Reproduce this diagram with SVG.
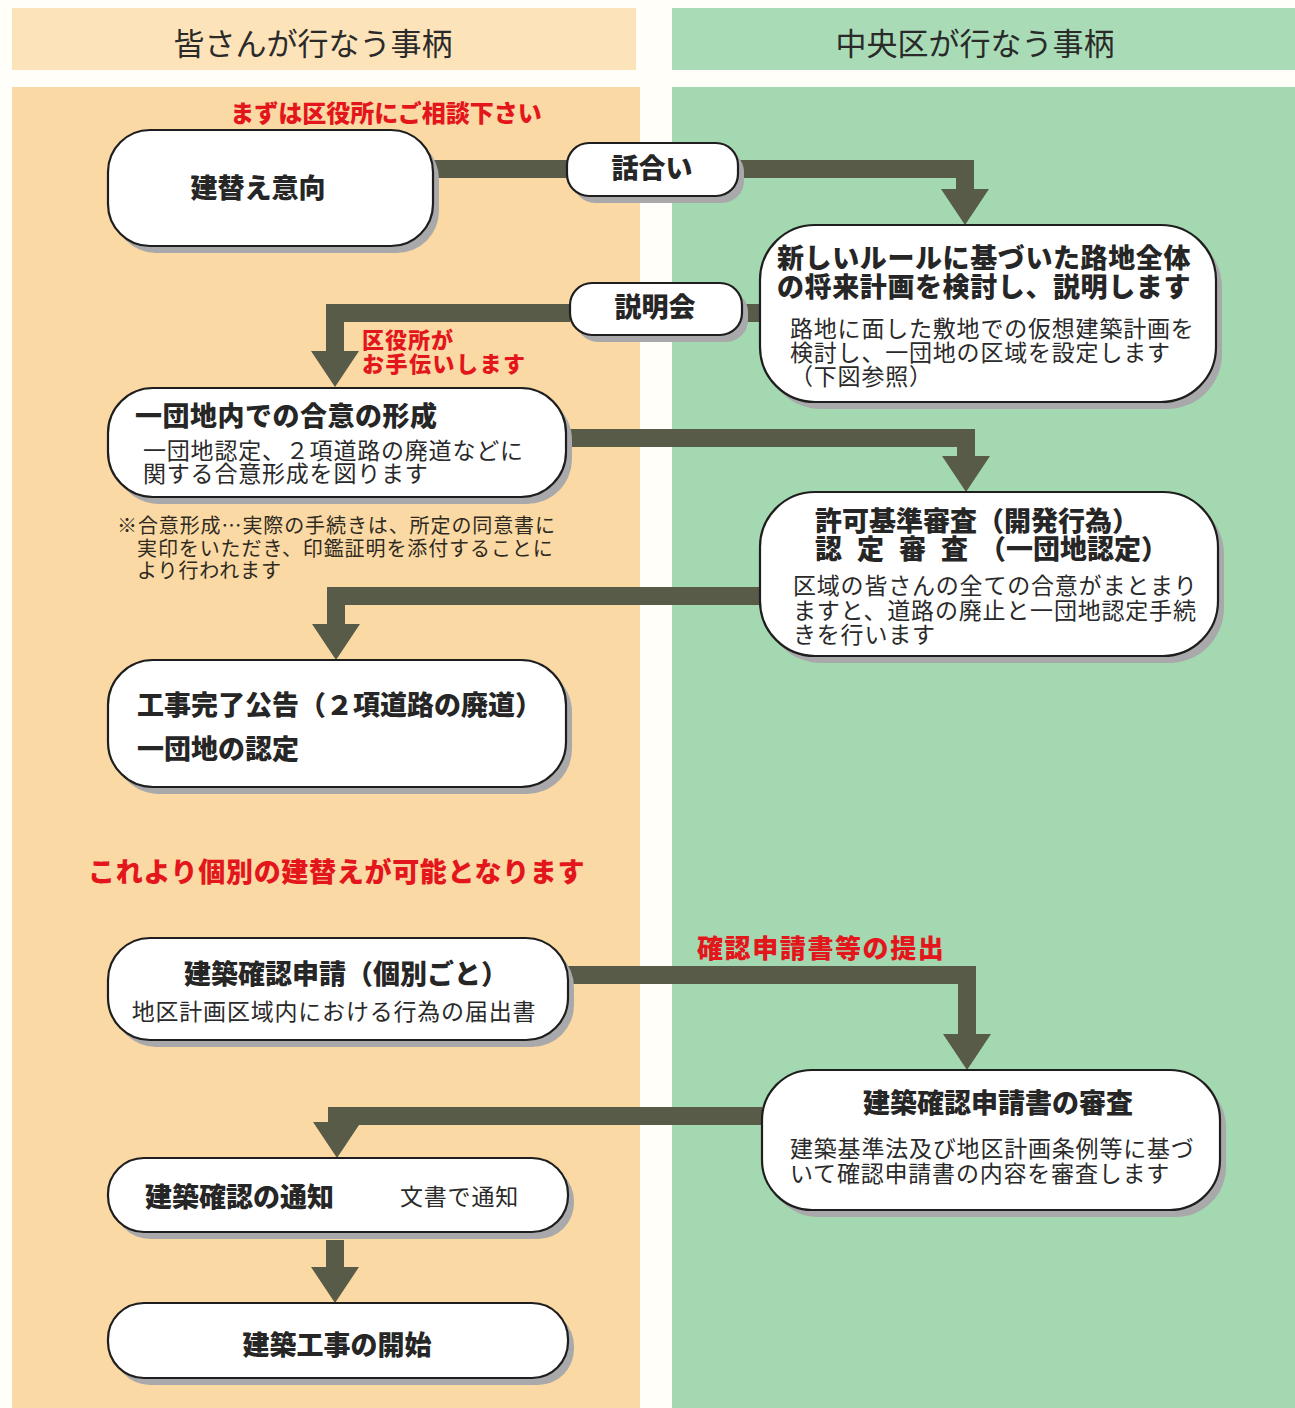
<svg xmlns="http://www.w3.org/2000/svg" width="1295" height="1408" viewBox="0 0 1295 1408">
<defs>
<style>
.bg-l{fill:#fbd9a4}
.bg-r{fill:#a3d8b0}
.hd-l{fill:#fde3b9}
.hd-r{fill:#a9dcb6}
.hdt{font-family:"Noto Sans CJK JP","Noto Sans",sans-serif;font-size:31px;fill:#2a2a2a;text-anchor:middle}
.box{fill:#ffffff;stroke:#1e1e1e;stroke-width:2.2}
.shd{fill:#a9a9ab}
.t{font-family:"Noto Sans CJK JP","Noto Sans",sans-serif;fill:#262626}
.b{font-family:"Noto Sans CJK JP","Noto Sans",sans-serif;font-weight:900;font-size:27px;fill:#262626}
.r{font-family:"Noto Sans CJK JP","Noto Sans",sans-serif;font-weight:normal;font-size:23px;letter-spacing:0.8px;fill:#2a2a2a}
.n{font-family:"Noto Sans CJK JP","Noto Sans",sans-serif;font-size:20px;letter-spacing:0.9px;fill:#2e2a22}
.red{font-family:"Noto Sans CJK JP","Noto Sans",sans-serif;font-weight:900;fill:#e3161c}
.c{text-anchor:middle}
.con{fill:none;stroke:#575b47;stroke-width:18;stroke-linejoin:miter}
</style>
<marker id="ah" markerUnits="userSpaceOnUse" viewBox="0 0 36 48" markerWidth="36" markerHeight="48" refX="2" refY="24" orient="auto">
<path d="M0,0 L36,24 L0,48 z" fill="#575b47"/>
</marker>
</defs>

<rect x="0" y="0" width="1295" height="1408" fill="#fffef9"/>
<rect class="hd-l" x="12" y="8" width="624" height="62"/>
<rect class="hd-r" x="672" y="8" width="623" height="62"/>
<rect class="bg-l" x="12" y="87" width="628" height="1321"/>
<rect class="bg-r" x="672" y="87" width="623" height="1321"/>
<text class="hdt" x="313" y="55">皆さんが行なう事柄</text>
<text class="hdt" x="975" y="55">中央区が行なう事柄</text>

<g id="connectors">
<path class="con" d="M433,169 H567"/>
<path class="con" d="M738,169 H965 V191" marker-end="url(#ah)"/>
<path class="con" d="M742,313 H760"/>
<path class="con" d="M570,313 H335 V353" marker-end="url(#ah)"/>
<path class="con" d="M566,438 H966 V458" marker-end="url(#ah)"/>
<path class="con" d="M760,596 H336 V626" marker-end="url(#ah)"/>
<path class="con" d="M568,975 H967 V1036" marker-end="url(#ah)"/>
<path class="con" d="M762,1116 H337 V1124" marker-end="url(#ah)"/>
<path class="con" d="M335,1240 V1269" marker-end="url(#ah)"/>
</g>

<text class="red c" x="386" y="122" font-size="24">まずは区役所にご相談下さい</text>
<text class="red" font-size="22"><tspan x="362" y="348" letter-spacing="1">区役所が</tspan><tspan x="362" y="372" letter-spacing="1.5">お手伝いします</tspan></text>
<text class="red" x="88" y="882" font-size="27" letter-spacing="0.7">これより個別の建替えが可能となります</text>
<text class="red" x="697" y="958" font-size="26" letter-spacing="1.6">確認申請書等の提出</text>

<g id="n1">
<rect class="shd" x="114" y="137" width="325" height="116" rx="42"/>
<rect class="box" x="108" y="130" width="325" height="116" rx="42"/>
<text class="b c" x="258" y="198" font-size="26">建替え意向</text>
</g>
<g id="n2">
<rect class="shd" x="573" y="150" width="171" height="53" rx="22"/>
<rect class="box" x="567" y="143" width="171" height="53" rx="22"/>
<text class="b c" x="652" y="178" font-size="26">話合い</text>
</g>
<g id="n3">
<rect class="shd" x="766" y="232" width="456" height="177" rx="55"/>
<rect class="box" x="760" y="225" width="456" height="177" rx="55"/>
<text class="b" letter-spacing="0.6"><tspan x="777" y="268">新しいルールに基づいた路地全体</tspan><tspan x="777" y="297">の将来計画を検討し、説明します</tspan><tspan class="r" x="790" y="337">路地に面した敷地での仮想建築計画を</tspan><tspan class="r" x="790" y="361">検討し、一団地の区域を設定します</tspan><tspan class="r" x="790" y="385">（下図参照）</tspan></text>
</g>
<g id="n4">
<rect class="shd" x="576" y="290" width="172" height="52" rx="22"/>
<rect class="box" x="570" y="283" width="172" height="52" rx="22"/>
<text class="b c" x="655" y="317" font-size="26">説明会</text>
</g>
<g id="n5">
<rect class="shd" x="114" y="395" width="458" height="109" rx="45"/>
<rect class="box" x="108" y="388" width="458" height="109" rx="45"/>
<text class="b"><tspan x="135" y="426" letter-spacing="0.5">一団地内での合意の形成</tspan><tspan class="r" x="143" y="459">一団地認定、２項道路の廃道などに</tspan><tspan class="r" x="143" y="482">関する合意形成を図ります</tspan></text>
</g>
<g id="note">
<text class="n"><tspan x="117" y="533">※合意形成…実際の手続きは、所定の同意書に</tspan><tspan x="137" y="556">実印をいただき、印鑑証明を添付することに</tspan><tspan x="137" y="578">より行われます</tspan></text>
</g>
<g id="n6">
<rect class="shd" x="766" y="499" width="458" height="164" rx="55"/>
<rect class="box" x="760" y="492" width="458" height="164" rx="55"/>
<text class="b"><tspan x="815" y="531">許可基準審査（開発行為）</tspan><tspan x="815" y="559">認</tspan><tspan x="857" y="559">定</tspan><tspan x="899" y="559">審</tspan><tspan x="941" y="559">査</tspan><tspan x="979" y="559">（一団地認定）</tspan><tspan class="r" x="793" y="594">区域の皆さんの全ての合意がまとまり</tspan><tspan class="r" x="793" y="619">ますと、道路の廃止と一団地認定手続</tspan><tspan class="r" x="793" y="643">きを行います</tspan></text>
</g>
<g id="n7">
<rect class="shd" x="114" y="667" width="458" height="127" rx="45"/>
<rect class="box" x="108" y="660" width="458" height="127" rx="45"/>
<text class="b"><tspan x="137" y="715">工事完了公告（２項道路の廃道）</tspan><tspan x="137" y="759">一団地の認定</tspan></text>
</g>
<g id="n8">
<rect class="shd" x="114" y="945" width="460" height="102" rx="42"/>
<rect class="box" x="108" y="938" width="460" height="102" rx="42"/>
<text class="b c" font-size="26"><tspan x="346" y="984">建築確認申請（個別ごと）</tspan><tspan class="r" x="334" y="1020">地区計画区域内における行為の届出書</tspan></text>
</g>
<g id="n9">
<rect class="shd" x="768" y="1077" width="458" height="140" rx="50"/>
<rect class="box" x="762" y="1070" width="458" height="140" rx="50"/>
<text class="b"><tspan class="c" x="998" y="1113" text-anchor="middle">建築確認申請書の審査</tspan><tspan class="r" x="790" y="1157" text-anchor="start">建築基準法及び地区計画条例等に基づ</tspan><tspan class="r" x="790" y="1182" text-anchor="start">いて確認申請書の内容を審査します</tspan></text>
</g>
<g id="n10">
<rect class="shd" x="114" y="1165" width="460" height="74" rx="36"/>
<rect class="box" x="108" y="1158" width="460" height="74" rx="36"/>
<text class="b" x="145" y="1207">建築確認の通知</text>
<text class="r" x="400" y="1205">文書で通知</text>
</g>
<g id="n11">
<rect class="shd" x="114" y="1310" width="460" height="75" rx="36"/>
<rect class="box" x="108" y="1303" width="460" height="75" rx="36"/>
<text class="b c" x="337" y="1355">建築工事の開始</text>
</g>
</svg>
